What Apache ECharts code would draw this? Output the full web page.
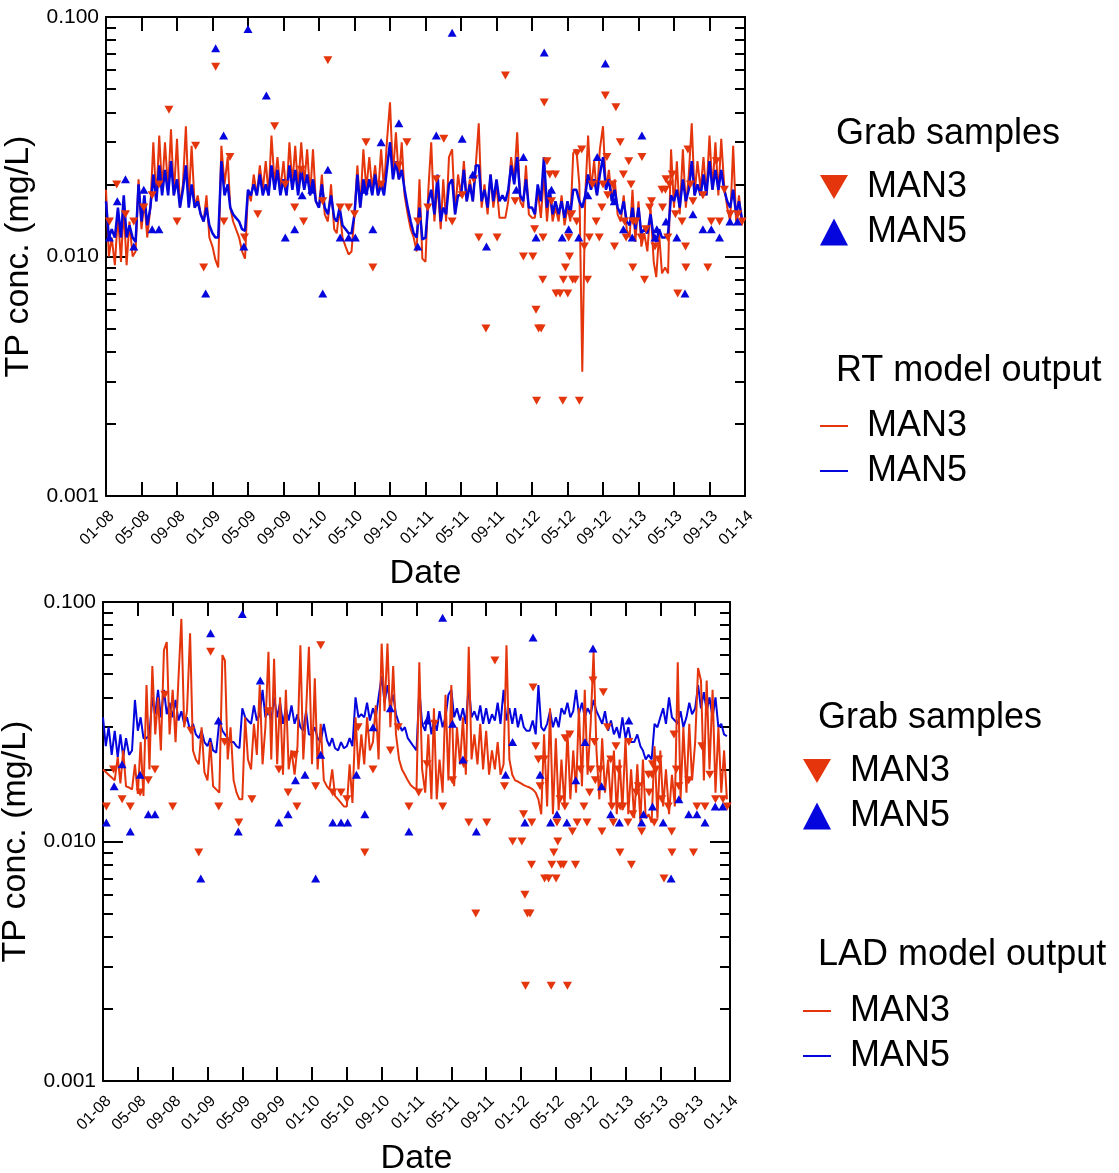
<!DOCTYPE html>
<html>
<head>
<meta charset="utf-8">
<script src="https://cdn.jsdelivr.net/npm/echarts@6/dist/echarts.min.js"></script>
<style>
  html, body { margin: 0; padding: 0; background: #fff; }
  #chart { width: 1119px; height: 1173px; }
</style>
</head>
<body>
<div id="chart"></div>
<script>
// ---- Tick labels ----
const dateTicks = ['01-08','05-08','09-08','01-09','05-09','09-09','01-10','05-10','09-10',
  '01-11','05-11','09-11','01-12','05-12','09-12','01-13','05-13','09-13','01-14'];
const concTicks = ['0.001', '0.010', '0.100'];
const minorConc = [0.002,0.003,0.004,0.005,0.006,0.007,0.008,0.009,
  0.02,0.03,0.04,0.05,0.06,0.07,0.08,0.09];

// ---- Grab samples, TP (mg/L) ----
const man3SampleDates = [
  '2008-01-13','2008-02-07','2008-03-07','2008-04-05','2008-05-09','2008-06-07','2008-06-30','2008-08-04',
  '2008-09-01','2008-11-04','2008-12-01','2009-01-12','2009-02-09','2009-02-28','2009-04-19','2009-06-04',
  '2009-08-01','2009-09-07','2009-10-09','2009-11-01','2009-11-09','2010-01-14','2010-02-01','2010-03-13',
  '2010-04-11','2010-05-01','2010-06-10','2010-07-03','2010-08-01','2010-10-01','2010-10-29','2010-12-05',
  '2011-01-09','2011-02-07','2011-03-03','2011-04-01','2011-05-05','2011-06-14','2011-07-01','2011-07-26',
  '2011-09-03','2011-10-01','2011-11-04','2011-12-02','2012-01-04','2012-01-10','2012-01-15','2012-01-17',
  '2012-01-24','2012-02-02','2012-02-08','2012-02-07','2012-02-12','2012-02-21','2012-03-01','2012-03-07',
  '2012-03-21','2012-03-23','2012-04-06','2012-04-15','2012-04-17','2012-04-24','2012-05-02','2012-05-05',
  '2012-05-08','2012-05-16','2012-05-19','2012-05-28','2012-06-02','2012-06-03','2012-06-11','2012-06-19',
  '2012-06-28','2012-07-09','2012-07-15','2012-07-26','2012-08-08','2012-08-19','2012-08-28','2012-09-01',
  '2012-09-09','2012-09-14','2012-09-17','2012-10-04','2012-10-10','2012-10-15','2012-10-30','2012-11-10',
  '2012-11-14','2012-11-19','2012-11-28','2012-12-06','2012-12-12','2012-12-13','2012-12-23','2013-01-10',
  '2013-01-13','2013-01-22','2013-01-27','2013-02-08','2013-02-14','2013-02-25','2013-03-21','2013-03-23',
  '2013-04-02','2013-04-04','2013-04-10','2013-04-16','2013-04-25','2013-05-06','2013-05-14','2013-05-29',
  '2013-06-10','2013-06-11','2013-06-18','2013-06-26','2013-07-05','2013-08-09','2013-08-26','2013-09-07',
  '2013-09-24','2013-10-05','2013-10-22','2013-11-11','2013-12-07','2013-12-22'];
const man3SampleConc = [
  0.014,0.020,0.015,0.014,0.016,0.018,0.020,0.041,
  0.014,0.029,0.009,0.062,0.014,0.026,0.012,0.015,
  0.035,0.020,0.016,0.023,0.014,0.017,0.066,0.016,
  0.016,0.015,0.030,0.009,0.020,0.024,0.030,0.014,
  0.016,0.021,0.031,0.014,0.018,0.021,0.012,0.005,
  0.012,0.057,0.017,0.010,0.010,0.013,0.006,0.0025,
  0.005,0.005,0.012,0.008,0.044,0.025,0.022,0.017,
  0.022,0.007,0.007,0.0025,0.008,0.009,0.007,0.012,
  0.010,0.015,0.008,0.008,0.014,0.027,0.0025,0.028,
  0.011,0.008,0.012,0.020,0.014,0.012,0.016,0.020,
  0.047,0.026,0.018,0.020,0.011,0.042,0.030,0.022,
  0.014,0.012,0.025,0.020,0.009,0.014,0.014,0.012,
  0.026,0.008,0.013,0.016,0.017,0.011,0.019,0.016,
  0.019,0.021,0.012,0.020,0.022,0.015,0.007,0.014,
  0.011,0.009,0.028,0.020,0.017,0.018,0.009,0.014,
  0.025,0.014,0.019,0.015,0.015,0.014];

const man5SampleDates = [
  '2008-01-13','2008-02-09','2008-03-07','2008-04-05','2008-05-09','2008-06-07','2008-06-30','2008-12-08',
  '2009-01-12','2009-02-08','2009-04-17','2009-05-01','2009-07-03','2009-09-07','2009-10-09','2009-11-04',
  '2009-12-07','2010-01-14','2010-02-01','2010-03-13','2010-04-11','2010-05-04','2010-06-04','2010-07-03',
  '2010-08-01','2010-10-01','2010-12-05','2011-02-07','2011-04-01','2011-05-05','2011-06-11','2011-07-28',
  '2011-11-08','2011-12-02','2012-01-15','2012-02-12','2012-03-07','2012-04-13','2012-05-05','2012-06-09',
  '2012-07-10','2012-08-12','2012-09-09','2012-10-09','2012-11-10','2012-12-10','2013-01-13','2013-02-25',
  '2013-03-03','2013-04-04','2013-05-11','2013-06-08','2013-07-05','2013-08-09','2013-09-07','2013-10-05',
  '2013-11-10','2013-12-06'];
const man5SampleConc = [
  0.012,0.017,0.021,0.011,0.019,0.013,0.013,0.007,
  0.074,0.032,0.011,0.089,0.047,0.012,0.013,0.018,
  0.019,0.007,0.023,0.012,0.012,0.012,0.019,0.013,
  0.030,0.036,0.011,0.032,0.086,0.031,0.022,0.011,
  0.019,0.026,0.012,0.071,0.019,0.012,0.013,0.012,
  0.018,0.026,0.064,0.017,0.013,0.012,0.032,0.012,
  0.013,0.014,0.012,0.007,0.015,0.013,0.013,0.012,
  0.014,0.014];

// ---- Model output, sampled on the 1st, 11th and 21st of each month, Jan 2008 - Dec 2013 ----
const rtMan3 = [
  0.019,0.010,0.012, 0.0092,0.015,0.0095, 0.016,0.0092,0.014, 0.010,0.0105,0.021, 0.013,0.017,0.012, 0.016,0.030,0.017,
  0.032,0.019,0.030, 0.019,0.034,0.018, 0.031,0.016,0.020, 0.035,0.017,0.029, 0.016,0.018,0.015, 0.014,0.018,0.012,
  0.011,0.0097,0.009, 0.029,0.020,0.026, 0.016,0.014,0.013, 0.012,0.0105,0.0098, 0.019,0.017,0.022, 0.018,0.024,0.019,
  0.025,0.018,0.032, 0.020,0.026,0.019, 0.025,0.018,0.030, 0.020,0.029,0.019, 0.030,0.020,0.028, 0.018,0.028,0.017,
  0.016,0.022,0.015, 0.014,0.020,0.013, 0.0125,0.016,0.012, 0.011,0.0102,0.0105, 0.015,0.024,0.016, 0.028,0.019,0.026,
  0.019,0.024,0.018, 0.028,0.019,0.030, 0.044,0.022,0.033, 0.021,0.030,0.018, 0.015,0.013,0.012, 0.0105,0.021,0.0098,
  0.0095,0.019,0.030, 0.014,0.020,0.013, 0.021,0.014,0.026, 0.028,0.015,0.022, 0.018,0.025,0.017, 0.021,0.017,0.024,
  0.036,0.016,0.020, 0.015,0.022,0.016, 0.020,0.0145,0.0145, 0.0145,0.017,0.026, 0.021,0.033,0.017, 0.016,0.024,0.015,
  0.0145,0.0145,0.019, 0.0145,0.022,0.014, 0.019,0.014,0.016, 0.014,0.018,0.0135, 0.016,0.014,0.027, 0.028,0.020,0.0033,
  0.018,0.032,0.019, 0.025,0.018,0.028, 0.035,0.019,0.023, 0.017,0.021,0.015, 0.014,0.018,0.013, 0.012,0.019,0.0115,
  0.017,0.011,0.0125, 0.0105,0.016,0.0095, 0.0082,0.0125,0.0085, 0.009,0.0085,0.028, 0.016,0.025,0.015, 0.028,0.016,0.022,
  0.036,0.018,0.025, 0.019,0.026,0.018, 0.032,0.019,0.030, 0.018,0.031,0.020, 0.016,0.014,0.029, 0.014,0.018,0.0135];
const rtMan5 = [
  0.017,0.012,0.013, 0.012,0.016,0.012, 0.018,0.012,0.0135, 0.012,0.0115,0.020, 0.014,0.018,0.0135, 0.016,0.022,0.017,
  0.024,0.018,0.023, 0.018,0.025,0.018, 0.021,0.016,0.019, 0.024,0.016,0.020, 0.016,0.017,0.015, 0.014,0.016,0.0135,
  0.0125,0.012,0.012, 0.025,0.018,0.020, 0.016,0.015,0.0145, 0.014,0.013,0.0128, 0.019,0.018,0.020, 0.018,0.022,0.018,
  0.020,0.018,0.024, 0.019,0.023,0.018, 0.021,0.018,0.024, 0.019,0.023,0.018, 0.023,0.019,0.022, 0.018,0.021,0.017,
  0.016,0.020,0.016, 0.015,0.018,0.0145, 0.014,0.016,0.0135, 0.013,0.0125,0.0125, 0.015,0.022,0.016, 0.021,0.018,0.021,
  0.018,0.022,0.018, 0.020,0.018,0.023, 0.030,0.021,0.025, 0.021,0.023,0.019, 0.016,0.014,0.0125, 0.012,0.016,0.0118,
  0.012,0.017,0.019, 0.015,0.022,0.014, 0.016,0.015,0.020, 0.021,0.015,0.018, 0.018,0.023,0.017, 0.020,0.017,0.024,
  0.024,0.017,0.019, 0.016,0.022,0.017, 0.021,0.017,0.018, 0.017,0.019,0.024, 0.020,0.026,0.018, 0.017,0.021,0.016,
  0.016,0.015,0.020, 0.017,0.026,0.016, 0.019,0.015,0.017, 0.015,0.017,0.0145, 0.017,0.015,0.019, 0.019,0.017,0.016,
  0.018,0.022,0.019, 0.021,0.018,0.022, 0.026,0.019,0.021, 0.017,0.019,0.016, 0.015,0.017,0.014, 0.0135,0.016,0.013,
  0.016,0.0125,0.013, 0.0125,0.015,0.012, 0.0115,0.013,0.012, 0.012,0.0125,0.018, 0.017,0.019,0.016, 0.021,0.017,0.019,
  0.025,0.018,0.020, 0.018,0.022,0.018, 0.025,0.019,0.023, 0.019,0.023,0.019, 0.017,0.016,0.019, 0.015,0.017,0.0145];
const ladMan3 = [
  0.020,0.0195,0.019, 0.0185,0.018,0.0225, 0.0175,0.024,0.017, 0.0168,0.0165,0.021, 0.0158,0.026,0.0155, 0.045,0.020,0.054,
  0.028,0.040,0.024, 0.063,0.068,0.028, 0.043,0.026,0.048, 0.085,0.030,0.035, 0.074,0.024,0.022, 0.021,0.030,0.0195,
  0.018,0.026,0.017, 0.0165,0.016,0.060, 0.057,0.022,0.030, 0.018,0.016,0.015, 0.015,0.033,0.022, 0.020,0.031,0.023,
  0.045,0.021,0.030, 0.062,0.022,0.058, 0.021,0.040,0.019, 0.043,0.020,0.024, 0.019,0.025,0.066, 0.022,0.035,0.065,
  0.021,0.048,0.020, 0.031,0.018,0.017, 0.0165,0.020,0.0155, 0.015,0.0145,0.014, 0.014,0.021,0.0145, 0.033,0.020,0.028,
  0.021,0.033,0.024, 0.026,0.037,0.022, 0.067,0.035,0.067, 0.030,0.054,0.028, 0.022,0.020,0.019, 0.018,0.0172,0.0168,
  0.0165,0.056,0.020, 0.016,0.028,0.015, 0.036,0.015,0.022, 0.016,0.041,0.018, 0.045,0.017,0.030, 0.021,0.033,0.019,
  0.065,0.022,0.028, 0.021,0.031,0.020, 0.029,0.019,0.024, 0.020,0.026,0.019, 0.021,0.066,0.022, 0.019,0.018,0.0178,
  0.0175,0.0172,0.017, 0.0168,0.0165,0.016, 0.015,0.013,0.028, 0.014,0.036,0.013, 0.027,0.0135,0.022, 0.014,0.029,0.015,
  0.024,0.016,0.036, 0.017,0.043,0.019, 0.031,0.062,0.024, 0.015,0.027,0.016, 0.022,0.014,0.024, 0.013,0.022,0.0135,
  0.027,0.013,0.020, 0.0125,0.021,0.012, 0.022,0.0125,0.013, 0.012,0.025,0.0125, 0.024,0.014,0.020, 0.013,0.019,0.014,
  0.056,0.015,0.030, 0.016,0.031,0.018, 0.026,0.053,0.047, 0.018,0.047,0.020, 0.043,0.016,0.030, 0.016,0.024,0.015];
const ladMan5 = [
  0.033,0.025,0.030, 0.023,0.029,0.0225, 0.028,0.0225,0.027, 0.023,0.024,0.039, 0.029,0.033,0.027, 0.027,0.028,0.040,
  0.034,0.043,0.033, 0.043,0.034,0.038, 0.033,0.039,0.032, 0.035,0.031,0.033, 0.029,0.031,0.028, 0.027,0.029,0.026,
  0.025,0.027,0.024, 0.0235,0.032,0.029, 0.028,0.027,0.026, 0.026,0.025,0.0245, 0.036,0.033,0.032, 0.031,0.037,0.032,
  0.034,0.043,0.033, 0.035,0.032,0.040, 0.033,0.038,0.031, 0.036,0.032,0.037, 0.031,0.034,0.030, 0.029,0.035,0.028,
  0.028,0.030,0.027, 0.026,0.031,0.0265, 0.025,0.027,0.0245, 0.024,0.026,0.0245, 0.025,0.027,0.025, 0.040,0.033,0.034,
  0.033,0.038,0.032, 0.036,0.033,0.040, 0.049,0.038,0.045, 0.037,0.041,0.034, 0.031,0.029,0.030, 0.027,0.026,0.025,
  0.024,0.043,0.031, 0.029,0.035,0.028, 0.032,0.029,0.035, 0.030,0.033,0.041, 0.043,0.033,0.036, 0.032,0.036,0.031,
  0.045,0.033,0.035, 0.032,0.037,0.031, 0.036,0.031,0.034, 0.032,0.038,0.031, 0.043,0.032,0.036, 0.031,0.036,0.030,
  0.034,0.030,0.029, 0.029,0.032,0.028, 0.045,0.030,0.029, 0.031,0.035,0.030, 0.033,0.030,0.036, 0.034,0.038,0.033,
  0.035,0.043,0.034, 0.038,0.033,0.036, 0.034,0.039,0.035, 0.033,0.031,0.035, 0.029,0.032,0.028, 0.030,0.027,0.033,
  0.027,0.030,0.026, 0.026,0.028,0.025, 0.024,0.022,0.023, 0.022,0.031,0.030, 0.033,0.036,0.031, 0.040,0.033,0.032,
  0.031,0.035,0.030, 0.033,0.038,0.034, 0.036,0.045,0.036, 0.042,0.035,0.040, 0.033,0.040,0.030, 0.031,0.028,0.0275];

// ---- helpers ----
const RED = '#E4350C';
const BLUE = '#0505DE';
const FONT = '"Liberation Sans", Arial, Helvetica, sans-serif';
const DOWN = 'path://M0,0L10,0L5,8.66Z';

function daysIn(y, m) { return new Date(Date.UTC(y, m, 0)).getUTCDate(); }
// date string -> months elapsed since 1 Jan 2008
function toMonths(s) {
  const [y, m, d] = s.split('-').map(Number);
  return (y - 2008) * 12 + (m - 1) + (d - 1) / daysIn(y, m);
}
const pad = n => String(n).padStart(2, '0');
const modelDates = [];
for (let y = 2008; y <= 2013; y++)
  for (let m = 1; m <= 12; m++)
    for (const d of [1, 11, 21]) modelDates.push(`${y}-${pad(m)}-${pad(d)}`);

const pairs = (dates, vals) => dates.map((d, i) => [toMonths(d), vals[i]]);

// ---- axes ----
const frame = { color: '#000', width: 2 };
function xAxes(g) {
  const base = {
    gridIndex: g, type: 'value', min: 0, max: 72, interval: 4,
    splitLine: { show: false },
    axisLine: { show: true, lineStyle: frame },
    axisTick: { show: true, inside: true, length: 14, lineStyle: frame }
  };
  return [
    Object.assign({}, base, {
      position: 'bottom',
      axisLabel: { rotate: 45, fontSize: 16, color: '#000', fontFamily: FONT, margin: 12,
        verticalAlign: 'top', formatter: v => dateTicks[Math.round(v / 4)] },
      name: 'Date', nameLocation: 'middle', nameGap: 61,
      nameTextStyle: { fontSize: 34, color: '#000', fontFamily: FONT }
    }),
    Object.assign({}, base, { position: 'top', axisLabel: { show: false } })
  ];
}
function yAxes(g) {
  const base = { gridIndex: g, type: 'log', logBase: 10, min: 0.001, max: 0.1,
    splitLine: { show: false }, minorTick: { show: false } };
  const major = pos => Object.assign({}, base, {
    position: pos,
    axisLine: { show: true, lineStyle: frame },
    axisTick: { show: true, inside: true, length: 20, lineStyle: frame },
    axisLabel: pos === 'left'
      ? { fontSize: 21, color: '#000', fontFamily: FONT, margin: 7,
          formatter: v => concTicks[Math.round(Math.log10(v)) + 3] }
      : { show: false }
  });
  const minor = pos => Object.assign({}, base, {
    position: pos,
    axisLine: { show: false },
    axisTick: { show: true, inside: true, length: 10, lineStyle: frame, customValues: minorConc },
    axisLabel: { show: false }
  });
  const left = major('left');
  left.name = 'TP conc. (mg/L)';
  left.nameLocation = 'middle';
  left.nameGap = 64;
  left.nameTextStyle = { fontSize: 34, color: '#000', fontFamily: FONT };
  return [left, minor('left'), major('right'), minor('right')];
}

// ---- series ----
function lineSeries(name, vals, color, g, z, width) {
  return { name, type: 'line', xAxisIndex: g * 2, yAxisIndex: g * 4,
    data: pairs(modelDates, vals), showSymbol: false, color,
    lineStyle: { color, width }, z, animation: false, silent: true };
}
function sampleSeries(name, dates, vals, color, symbol, g) {
  return { name, type: 'scatter', xAxisIndex: g * 2, yAxisIndex: g * 4,
    data: pairs(dates, vals), symbol, symbolSize: [9, 8], color,
    itemStyle: { color, opacity: 1 }, z: 5, animation: false, silent: true };
}

const legendText = { fontSize: 36, color: '#000', fontFamily: FONT, lineHeight: 35, padding: [0, 0, 0, 14] };
function legend(left, top, items, w, h) {
  return { left, top, orient: 'vertical', itemWidth: w, itemHeight: h, itemGap: 9, padding: 0,
    selectedMode: false, data: items, formatter: n => n.split(' ')[0], textStyle: legendText,
    itemStyle: { opacity: 1 } };
}
const heading = (text, left, top) => ({ text, left, top, padding: 0,
  textStyle: { fontSize: 36, fontWeight: 'normal', color: '#000', fontFamily: FONT } });

const option = {
  backgroundColor: '#fff',
  animation: false,
  textStyle: { fontFamily: FONT },
  title: [
    heading('Grab samples', 836, 116),
    heading('RT model output', 836, 353),
    heading('Grab samples', 818, 700),
    heading('LAD model output', 818, 937)
  ],
  legend: [
    legend(820, 169, [{ name: 'MAN3 sample', icon: DOWN }, { name: 'MAN5 sample', icon: 'triangle' }], 28, 27),
    legend(820, 408, [{ name: 'MAN3 RT', icon: 'rect' }, { name: 'MAN5 RT', icon: 'rect' }], 28, 2),
    legend(803, 753, [{ name: 'MAN3 sample', icon: DOWN }, { name: 'MAN5 sample', icon: 'triangle' }], 28, 27),
    legend(803, 993, [{ name: 'MAN3 LAD', icon: 'rect' }, { name: 'MAN5 LAD', icon: 'rect' }], 28, 2)
  ],
  grid: [
    { left: 106, top: 17, width: 639, height: 479, outerBoundsMode: 'none' },
    { left: 103, top: 602, width: 627, height: 479, outerBoundsMode: 'none' }
  ],
  xAxis: [...xAxes(0), ...xAxes(1)],
  yAxis: [...yAxes(0), ...yAxes(1)],
  series: [
    lineSeries('MAN3 RT', rtMan3, RED, 0, 2, 2),
    lineSeries('MAN5 RT', rtMan5, BLUE, 0, 3, 2.5),
    sampleSeries('MAN3 sample', man3SampleDates, man3SampleConc, RED, DOWN, 0),
    sampleSeries('MAN5 sample', man5SampleDates, man5SampleConc, BLUE, 'triangle', 0),
    lineSeries('MAN5 LAD', ladMan5, BLUE, 1, 2, 2),
    lineSeries('MAN3 LAD', ladMan3, RED, 1, 3, 2),
    sampleSeries('MAN3 sample', man3SampleDates, man3SampleConc, RED, DOWN, 1),
    sampleSeries('MAN5 sample', man5SampleDates, man5SampleConc, BLUE, 'triangle', 1)
  ]
};

const chart = echarts.init(document.getElementById('chart'), null, { renderer: 'canvas' });
chart.setOption(option);
</script>
</body>
</html>
